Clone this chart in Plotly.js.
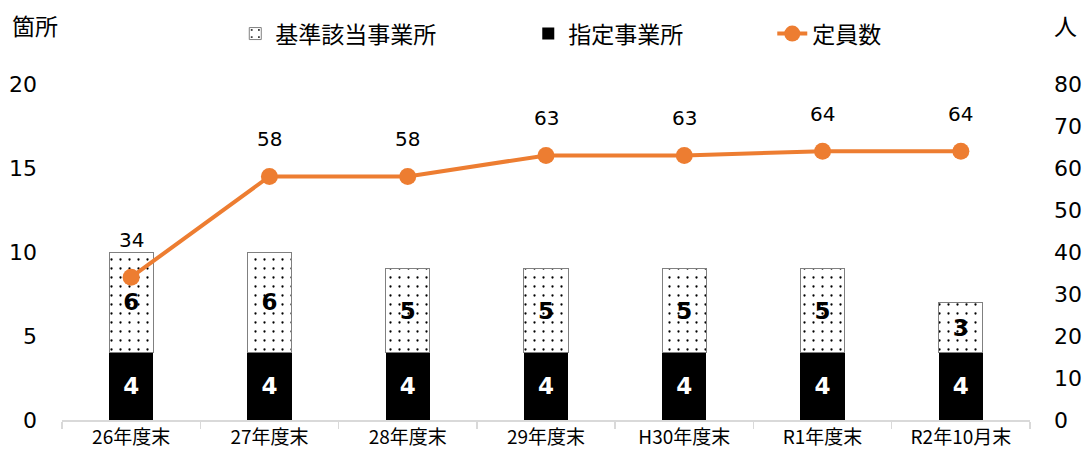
<!DOCTYPE html>
<html><head><meta charset="utf-8">
<script src="https://cdn.plot.ly/plotly-3.0.1.min.js"></script>
<style>body{margin:0;background:#fff}#c{width:1089px;height:461px}</style>
</head><body><div id="c"></div>
<script>
const categories = ["26年度末","27年度末","28年度末","29年度末","H30年度末","R1年度末","R2年10月末"];
const designated = [4,4,4,4,4,4,4];
const criteria = [6,6,5,5,5,5,3];
const capacity = [34,58,58,63,63,64,64];

const jp = '"Noto Sans CJK JP", "Noto Sans", sans-serif';
const num = '"DejaVu Sans", Verdana, sans-serif';

const traces = [
  {type:'bar', name:'指定事業所', x:categories, y:designated, yaxis:'y',
   marker:{color:'#000000', line:{width:0}},
   text:designated.map(String), textposition:'inside', insidetextanchor:'middle',
   textfont:{family:num, size:23, color:'#ffffff', weight:'bold'}, hoverinfo:'skip',
   legendrank:2, legendwidth:199},
  {type:'bar', name:'基準該当事業所', x:categories, y:criteria, yaxis:'y',
   marker:{color:'#ffffff', line:{width:1, color:'#808080'},
     pattern:{shape:'.', fgcolor:'#000000', bgcolor:'#ffffff', size:9, solidity:0.05}},
   text:criteria.map(String), textposition:'inside', insidetextanchor:'middle',
   textfont:{family:num, size:23, color:'#000000', weight:'bold'}, hoverinfo:'skip',
   legendrank:1, legendwidth:248},
  {type:'scatter', mode:'lines+markers', name:'定員数', x:categories, y:capacity, yaxis:'y2',
   line:{color:'#ED7D31', width:4}, marker:{color:'#ED7D31', size:17}, hoverinfo:'skip', legendrank:3}
];

const annotations = capacity.map((v,i)=>({
  x:categories[i], y:v, xref:'x', yref:'y2', text:String(v), showarrow:false,
  yshift:37, font:{family:num, size:20, color:'#000'}
}));
annotations.push({xref:'paper', yref:'paper', x:-0.028, y:1.176, xanchor:'center', yanchor:'middle',
  text:'箇所', showarrow:false, font:{family:jp, size:23, color:'#000'}});
annotations.push({xref:'paper', yref:'paper', x:1.037, y:1.176, xanchor:'center', yanchor:'middle',
  text:'人', showarrow:false, font:{family:jp, size:23, color:'#000'}});

const layout = {
  width:1089, height:461, margin:{l:62, r:59, t:84, b:41, autoexpand:false},
  paper_bgcolor:'#fff', plot_bgcolor:'#fff',
  barmode:'stack', bargap:0.68,
  showlegend:true,
  legend:{orientation:'h', x:0.179, xanchor:'left', y:1.15, yanchor:'middle',
    font:{family:jp, size:23, color:'#000'}, traceorder:'normal'},
  xaxis:{type:'category', showline:true, linecolor:'#d9d9d9', linewidth:1.5,
    ticks:'outside', tickson:'boundaries', ticklen:7, tickcolor:'#d9d9d9', tickwidth:1.5,
    tickfont:{family:jp, size:19, color:'#000'}, showgrid:false, zeroline:false},
  yaxis:{range:[0,20], dtick:5, showgrid:false, zeroline:false, showline:false,
    tickfont:{family:num, size:22, color:'#000'}, ticklabelstandoff:24},
  yaxis2:{range:[0,80], dtick:10, overlaying:'y', side:'right', showgrid:false, zeroline:false,
    showline:false, tickfont:{family:num, size:22, color:'#000'}, ticklabelstandoff:23},
  annotations:annotations
};
Plotly.newPlot('c', traces, layout, {staticPlot:true});
</script></body></html>
